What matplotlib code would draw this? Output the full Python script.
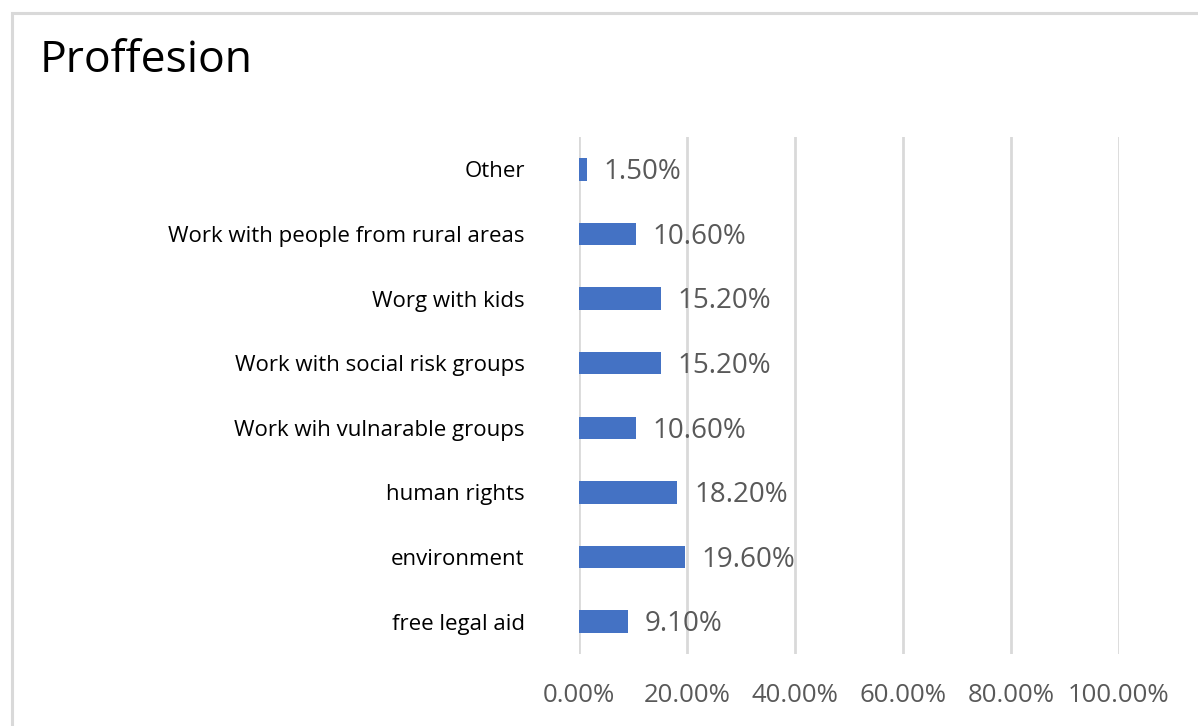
import matplotlib
matplotlib.use("Agg")
import matplotlib.pyplot as plt
from matplotlib.patches import Rectangle
from matplotlib.ticker import FuncFormatter

categories = [
    "free legal aid",
    "environment",
    "human rights",
    "Work wih vulnarable groups",
    "Work with social risk groups",
    "Worg with kids",
    "Work with people from rural areas",
    "Other",
]
shares = [9.1, 19.6, 18.2, 10.6, 15.2, 15.2, 10.6, 1.5]
ticks = [0, 20, 40, 60, 80, 100]

FONT = "Open Sans"
BAR = "#4472C4"
GREY_TXT = "#595959"
GRID = "#d9d9d9"

W, H = 1198, 726
fig = plt.figure(figsize=(W / 100, H / 100), dpi=100)
fig.patch.set_facecolor("white")

# outer chart frame (runs off the right and bottom edges)
fig.patches.append(Rectangle((12 / W, -0.1), 1.2, (H - 13) / H + 0.1,
                             transform=fig.transFigure, fill=False,
                             edgecolor=GRID, linewidth=2.2))

fig.text(40 / W, 1 - 61 / H, "Proffesion", fontsize=32, family=FONT,
         color="black", va="center", ha="left")

ax = fig.add_axes([579 / W, 1 - 654 / H, (1119 - 579) / W, (654 - 137) / H])
y = list(range(len(categories)))
ax.barh(y, shares, height=0.35, color=BAR, zorder=3)
ax.set_xlim(0, 100)
ax.set_ylim(-0.5, len(categories) - 0.5)
ax.set_xticks(ticks)
ax.xaxis.set_major_formatter(FuncFormatter(lambda v, p: f"{v:.2f}%"))
ax.set_yticks(y)
ax.set_yticklabels(categories)
ax.grid(axis="x", color=GRID, linewidth=2, zorder=0)
ax.grid(axis="y", visible=False)
for s in ax.spines.values():
    s.set_visible(False)
ax.tick_params(axis="x", length=0, pad=21, labelsize=18.5, labelcolor=GREY_TXT)
ax.tick_params(axis="y", length=0, pad=39, labelsize=16, labelcolor="black")
for lab in ax.get_xticklabels() + ax.get_yticklabels():
    lab.set_family(FONT)

for yi, v in zip(y, shares):
    ax.annotate(f"{v:.2f}%", xy=(v, yi), xytext=(12, -2), textcoords="offset points",
                va="center", ha="left", fontsize=20, color=GREY_TXT, family=FONT,
                zorder=4)

fig.savefig("out.png", dpi=100)
